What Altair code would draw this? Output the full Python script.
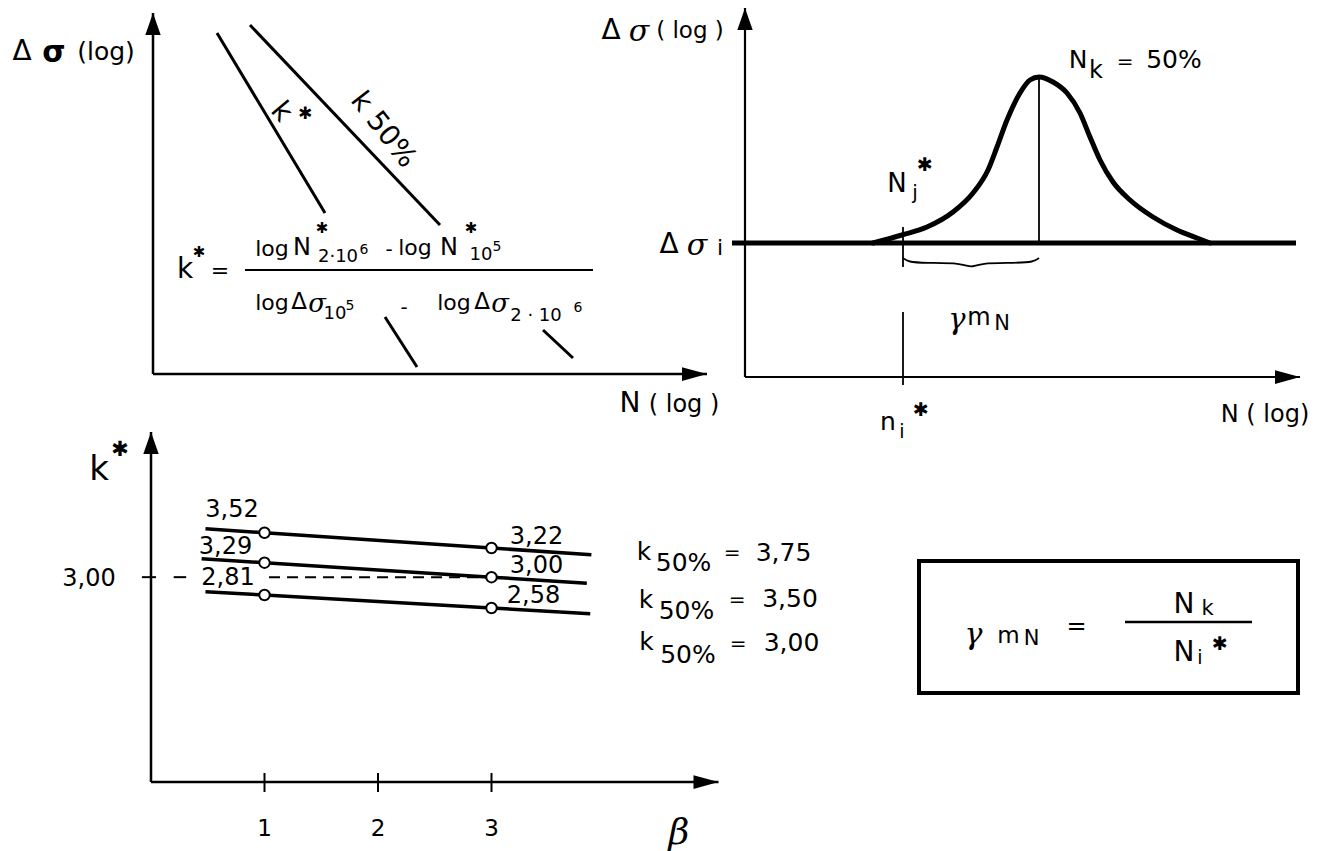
import altair as alt
import pandas as pd

SANS = "DejaVu Sans"
SERIF = "DejaVu Serif"
STAR = "\u2731"

# ---------------- placement of the four sub-diagrams ----------------
PANEL = {
    "A": dict(xd=[0, 55.4], xr=[153, 707], yd=[0, 36.1], yr=[374, 13]),
    "B": dict(xd=[0, 55.5], xr=[745, 1300], yd=[0, 36.9], yr=[377, 8]),
    "C": dict(xd=[0, 5.0], xr=[151, 718.5], yd=[0.68, 4.644], yr=[782, 432]),
    "D": dict(xd=[0, 37.9], xr=[919, 1298], yd=[0, 13.2], yr=[693, 561]),
}

# ---------------- Panel A : S-N lines (log N, log dsigma; diagram units) ----------------
A_AXES = [([0, 0], [0, 36.1]), ([0, 55.4], [0, 0])]
A_SN = [([6.4, 17.2], [34.1, 16.1]),     # k*
        ([9.7, 28.7], [34.9, 14.9])]     # k 50%
A_LEAD = [([23.2, 26.4], [5.7, 0.7]), ([39.0, 42.0], [4.4, 1.6])]
A_BAR = [([9.2, 44.0], [10.4, 10.4])]
A_UP = [(0, 36.1)]
A_RIGHT = [(55.4, 0)]
A_TXT = [("Δ", -13.1, 32.2, 28), ("(log)", -4.7, 32.2, 25),
         ("N", 47.7, -3.0, 28), ("( log )", 53.1, -3.1, 24),
         ("k", 3.2, 10.4, 28), ("=", 6.7, 10.3, 22),
         ("log", 11.9, 12.5, 22), ("N", 14.9, 12.6, 24), ("2·10", 18.5, 11.7, 18), ("6", 21.1, 12.4, 14),
         ("-", 23.6, 12.4, 20),
         ("log", 26.2, 12.6, 22), ("N", 29.6, 12.6, 24), ("10", 32.8, 11.9, 18), ("5", 34.4, 12.7, 14),
         ("log", 11.9, 7.1, 22), ("Δ", 14.6, 7.2, 23), ("10", 18.2, 6.0, 18), ("5", 19.7, 6.8, 14),
         ("-", 25.1, 6.6, 20),
         ("log", 30.1, 7.1, 22), ("Δ", 32.9, 7.2, 23), ("2 · 10", 38.3, 5.8, 18), ("6", 42.5, 6.6, 14)]
A_STARS = [(STAR, 4.6, 12.2, 15), (STAR, 16.9, 14.6, 15), (STAR, 31.8, 14.6, 15), (STAR, 15.2, 26.0, 17)]
A_BOLD = [("σ", -9.9, 32.1, 30)]
A_ITAL = [("σ", 16.4, 7.0, 26), ("σ", 34.7, 7.0, 26)]
A_ROT_K = [("k", 12.8, 26.2, 28)]
A_ROT_K50 = [("k 50%", 23.0, 24.4, 28)]

# ---------------- Panel B : distribution of N at dsigma_i ----------------
B_AXES = [([0, 0], [0, 36.9]), ([0, 55.5], [0, 0])]
B_LEVEL = [([-1.3, 55.1], [13.4, 13.4])]
B_CURVE_N = [12.8, 15.7, 18.2, 20.8, 22.8, 24.3, 25.2, 26.2, 27.5, 28.5, 29.4,
             30.8, 32.2, 33.5, 34.5, 35.5, 36.8, 38.5, 40.8, 43.2, 45.2, 46.5]
B_CURVE_S = [13.4, 14.2, 15.0, 16.5, 18.4, 20.7, 23.0, 25.7, 28.4, 29.7, 30.0,
             29.5, 28.4, 26.4, 24.0, 21.7, 19.5, 17.7, 16.0, 14.7, 13.9, 13.4]
B_MARKS = [([29.4, 29.4], [13.4, 30.0]), ([15.8, 15.8], [15.0, 11.0]), ([15.8, 15.8], [6.5, -0.8])]
B_BRACE_N = [15.8, 16.3, 18.0, 21.7, 22.6, 23.5, 27.0, 28.9, 29.4]
B_BRACE_S = [11.9, 11.5, 11.4, 11.4, 10.9, 11.4, 11.4, 11.5, 11.9]
B_UP = [(0, 36.9)]
B_RIGHT = [(55.5, 0)]
B_TXT = [("Δ", -13.4, 34.6, 28), ("( log )", -5.5, 34.6, 23),
         ("Δ", -7.6, 13.2, 28), ("i", -2.5, 12.9, 22),
         ("N", 33.3, 31.7, 25), ("k", 35.1, 30.6, 24), ("=", 38.0, 31.5, 20), ("50%", 42.9, 31.7, 25),
         ("N", 15.2, 19.3, 26), ("j", 17.0, 18.4, 20),
         ("m", 23.4, 5.9, 24), ("N", 25.7, 5.3, 21),
         ("n", 14.3, -4.5, 25), ("i", 15.7, -5.5, 19),
         ("N ( log)", 52.0, -3.8, 24)]
B_STARS = [(STAR, 18.0, 21.2, 19), (STAR, 17.6, -3.3, 19)]
B_ITAL = [("σ", -10.6, 34.5, 30), ("σ", -4.8, 13.1, 30), ("γ", 21.2, 5.7, 29)]

# ---------------- Panel C : k* versus beta ----------------
C_AXES = [([0, 0], [0.68, 4.644]), ([0, 5.0], [0.68, 0.68])]
C_TICKS = [([1, 1], [0.567, 0.782]), ([2, 2], [0.567, 0.782]), ([3, 3], [0.567, 0.782]),
           ([-0.08, 0.044], [3.0, 3.0]), ([0.20, 0.31], [3.0, 3.0])]
C_UP = [(0, 4.644)]
C_RIGHT = [(5.0, 0.68)]
BETA_TOP = [0.48, 1, 3, 3.88]
K_TOP = [3.548, 3.503, 3.330, 3.254]
BETA_MID = [0.446, 1, 3, 3.84]
K_MID = [3.209, 3.164, 3.000, 2.931]
BETA_BOT = [0.48, 1, 3, 3.87]
K_BOT = [2.836, 2.798, 2.651, 2.585]
C_DASH = [([1.04, 2.95], [3.0, 3.0])]
PT_BETA = [1, 3, 1, 3, 1, 3]
PT_K = [3.503, 3.330, 3.164, 3.000, 2.798, 2.651]
C_TXT = [("3,52", 0.714, 3.766, 24), ("3,29", 0.656, 3.347, 24), ("2,81", 0.678, 2.985, 24),
         ("3,22", 3.396, 3.460, 24), ("3,00", 3.396, 3.121, 24), ("2,58", 3.370, 2.781, 24),
         ("3,00", -0.546, 2.979, 24), ("k", -0.458, 4.213, 34),
         ("1", 1, 0.148, 23), ("2", 2, 0.148, 23), ("3", 3, 0.148, 23),
         ("k", 4.344, 3.290, 25), ("50%", 4.692, 3.155, 25), ("=", 5.119, 3.268, 20), ("3,75", 5.573, 3.279, 25),
         ("k", 4.361, 2.741, 25), ("50%", 4.718, 2.617, 25), ("=", 5.163, 2.741, 20), ("3,50", 5.630, 2.752, 25),
         ("k", 4.366, 2.260, 25), ("50%", 4.731, 2.118, 25), ("=", 5.172, 2.243, 20), ("3,00", 5.643, 2.254, 25)]
C_STARS = [(STAR, -0.273, 4.44, 21)]
C_ITAL = [("β", 4.652, 0.102, 36)]

# ---------------- Panel D : boxed formula ----------------
D_BOX = [([0, 37.9, 37.9, 0, 0], [0, 0, 13.2, 13.2, 0])]
D_BAR = [([20.6, 33.3], [7.1, 7.1])]
D_TXT = [("m", 8.95, 5.7, 23), ("N", 11.25, 5.45, 21), ("=", 15.75, 6.65, 24),
         ("N", 26.5, 8.8, 28), ("k", 28.85, 8.45, 21),
         ("N", 26.5, 4.05, 28), ("i", 28.1, 3.5, 19)]
D_STARS = [(STAR, 30.1, 4.95, 19)]
D_ITAL = [("γ", 5.45, 5.8, 30)]

UP_SHAPE = "M0,0L0.7,2L-0.7,2Z"
RIGHT_SHAPE = "M0,0L-2,-0.55L-2,0.55Z"


def sc(p, ax):
    d = PANEL[p]
    if ax == "x":
        return alt.Scale(domain=d["xd"], range=d["xr"], nice=False, zero=False)
    return alt.Scale(domain=d["yd"], range=d["yr"], nice=False, zero=False)


def xy(p):
    return dict(x=alt.X("x:Q", scale=sc(p, "x"), axis=None),
                y=alt.Y("y:Q", scale=sc(p, "y"), axis=None))


def paths(p, segs, width, dash=None, interp="linear", cap="butt"):
    rows = []
    for sid, (xs, ys) in enumerate(segs):
        for o, (xv, yv) in enumerate(zip(xs, ys)):
            rows.append({"id": sid, "o": o, "x": xv, "y": yv})
    kw = dict(color="black", strokeWidth=width, interpolate=interp, strokeCap=cap)
    if dash:
        kw["strokeDash"] = dash
    return alt.Chart(pd.DataFrame(rows)).mark_line(**kw).encode(
        detail="id:N", order="o:Q", **xy(p))


def texts(p, items, font=SANS, style="normal", weight="normal", angle=None):
    df = pd.DataFrame(items, columns=["t", "x", "y", "s"])
    kw = dict(font=font, fontStyle=style, fontWeight=weight, color="black",
              align="center", baseline="middle")
    if angle is not None:
        kw["angle"] = angle
    return alt.Chart(df).mark_text(**kw).encode(
        text="t:N", size=alt.Size("s:Q", scale=None, legend=None), **xy(p))


def arrows(p, tips, shape, size):
    df = pd.DataFrame(tips, columns=["x", "y"])
    return alt.Chart(df).mark_point(shape=shape, filled=True, color="black", size=size,
                                    opacity=1, strokeWidth=0).encode(**xy(p))


layers = [
    # Panel A
    paths("A", A_AXES, 2.5),
    paths("A", A_SN, 3),
    paths("A", A_LEAD, 3),
    paths("A", A_BAR, 2),
    arrows("A", A_UP, UP_SHAPE, 484),
    arrows("A", A_RIGHT, RIGHT_SHAPE, 625),
    texts("A", A_TXT),
    texts("A", A_STARS, weight="bold"),
    texts("A", A_BOLD, weight="bold"),
    texts("A", A_ITAL, font=SERIF, style="italic"),
    texts("A", A_ROT_K, angle=50),
    texts("A", A_ROT_K50, angle=52),
    # Panel B
    paths("B", B_AXES, 2.2),
    paths("B", [(B_CURVE_N, B_CURVE_S)], 5, interp="monotone", cap="round"),
    paths("B", B_LEVEL, 5),
    paths("B", B_MARKS, 1.8),
    paths("B", [(B_BRACE_N, B_BRACE_S)], 1.8, interp="basis"),
    arrows("B", B_UP, UP_SHAPE, 484),
    arrows("B", B_RIGHT, RIGHT_SHAPE, 625),
    texts("B", B_TXT),
    texts("B", B_STARS, weight="bold"),
    texts("B", B_ITAL, font=SERIF, style="italic"),
    # Panel C
    paths("C", C_AXES, 2.5),
    paths("C", C_TICKS, 2),
    paths("C", C_DASH, 2, dash=[11, 7]),
    paths("C", [(BETA_TOP, K_TOP), (BETA_MID, K_MID), (BETA_BOT, K_BOT)], 3.5),
    alt.Chart(pd.DataFrame({"x": PT_BETA, "y": PT_K})).mark_point(
        shape="circle", filled=True, fill="white", stroke="black", strokeWidth=2,
        size=110, opacity=1).encode(**xy("C")),
    arrows("C", C_UP, UP_SHAPE, 484),
    arrows("C", C_RIGHT, RIGHT_SHAPE, 625),
    texts("C", C_TXT),
    texts("C", C_STARS, weight="bold"),
    texts("C", C_ITAL, font=SERIF, style="italic"),
    # Panel D
    paths("D", D_BOX, 4, cap="square"),
    paths("D", D_BAR, 2.5),
    texts("D", D_TXT),
    texts("D", D_STARS, weight="bold"),
    texts("D", D_ITAL, font=SERIF, style="italic"),
]

chart = alt.layer(*layers).resolve_scale(x="independent", y="independent").properties(
    width=1327, height=851, padding=0, autosize=alt.AutoSizeParams(type="none")
).configure(background="white").configure_view(stroke=None)

chart.save("out.html", embed_options={"renderer": "svg", "actions": False})
